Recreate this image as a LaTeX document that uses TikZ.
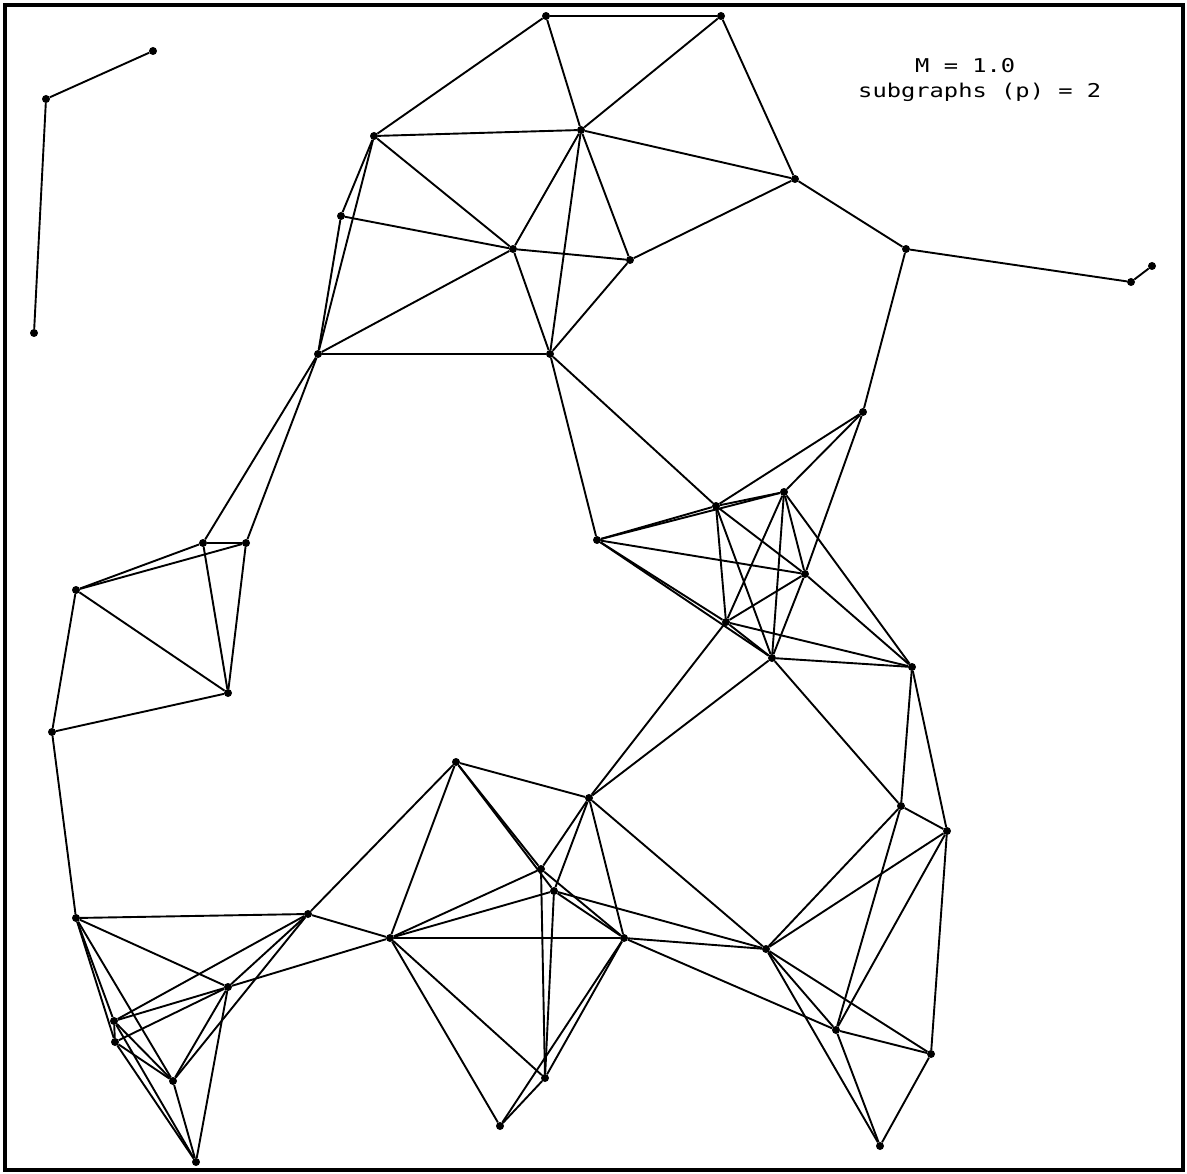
\documentclass[tikz,border=0pt]{standalone}
\usepackage{fontspec}
\usepackage{graphicx}
\newfontfamily\plotfont{DejaVu Sans Mono}
\begin{document}
\begin{tikzpicture}[x=1pt,y=-1pt,
  dot/.style={circle, fill=black, inner sep=0pt, minimum size=8pt},
  edge/.style={line width=1.9pt, black},
  lbl/.style={anchor=base west, inner sep=0pt, font=\plotfont\fontsize{19}{22}\selectfont}]
\useasboundingbox (0,0) rectangle (1187,1174);
\draw[line width=3.5pt] (5,5) rectangle (1183,1170);
% small component
\node[dot] (a1) at (153,51) {};
\node[dot] (a2) at (46,99) {};
\node[dot] (a3) at (34,333) {};
% main component
\node[dot] (n1) at (546,16) {};
\node[dot] (n2) at (721,16) {};
\node[dot] (n3) at (374,136) {};
\node[dot] (n4) at (581,130) {};
\node[dot] (n5) at (795,179) {};
\node[dot] (n6) at (341,216) {};
\node[dot] (n7) at (513,249) {};
\node[dot] (n8) at (630,260) {};
\node[dot] (n9) at (906,249) {};
\node[dot] (n10) at (1131,282) {};
\node[dot] (n11) at (1152,266) {};
\node[dot] (n12) at (318,354) {};
\node[dot] (n13) at (550,354) {};
\node[dot] (n14) at (863,412) {};
\node[dot] (n15) at (716,506) {};
\node[dot] (n16) at (784,492) {};
\node[dot] (n17) at (597,540) {};
\node[dot] (n18) at (805,574) {};
\node[dot] (n19) at (726,622) {};
\node[dot] (n20) at (772,658) {};
\node[dot] (n21) at (912,667) {};
\node[dot] (n22) at (203,543) {};
\node[dot] (n23) at (246,543) {};
\node[dot] (n24) at (76,590) {};
\node[dot] (n25) at (228,693) {};
\node[dot] (n26) at (52,732) {};
\node[dot] (n27) at (456,762) {};
\node[dot] (n28) at (589,798) {};
\node[dot] (n29) at (901,806) {};
\node[dot] (n30) at (947,831) {};
\node[dot] (n31) at (541,869) {};
\node[dot] (n32) at (554,891) {};
\node[dot] (n33) at (76,918) {};
\node[dot] (n34) at (308,914) {};
\node[dot] (n35) at (390,938) {};
\node[dot] (n36) at (624,938) {};
\node[dot] (n37) at (766,949) {};
\node[dot] (n38) at (228,987) {};
\node[dot] (n39) at (114,1021) {};
\node[dot] (n40) at (115,1042) {};
\node[dot] (n41) at (173,1081) {};
\node[dot] (n42) at (545,1078) {};
\node[dot] (n43) at (836,1030) {};
\node[dot] (n44) at (931,1054) {};
\node[dot] (n45) at (500,1126) {};
\node[dot] (n46) at (880,1146) {};
\node[dot] (n47) at (196,1162) {};
% label
\node[lbl] (t1) at (915,73) {\scalebox{1.25}[1]{M = 1.0}};
\node[lbl] (t2) at (858,98) {\scalebox{1.25}[1]{subgraphs (p) = 2}};
% edges
\foreach \a/\b in {a1/a2,a2/a3,
 n1/n2,n1/n3,n1/n4,n2/n4,n2/n5,
 n3/n4,n3/n6,n3/n7,n3/n12,
 n4/n5,n4/n7,n4/n8,n4/n13,
 n5/n8,n5/n9,
 n6/n7,n6/n12,
 n7/n8,n7/n12,n7/n13,
 n8/n13,
 n9/n10,n10/n11,n9/n14,
 n12/n13,n12/n22,n12/n23,
 n13/n15,n13/n17,
 n14/n15,n14/n16,n14/n18,
 n15/n16,n15/n17,n15/n18,n15/n19,n15/n20,
 n16/n17,n16/n18,n16/n19,n16/n20,n16/n21,
 n17/n18,n17/n19,n17/n20,
 n18/n19,n18/n20,n18/n21,
 n19/n20,n19/n21,n19/n28,
 n20/n21,n20/n28,n20/n29,
 n21/n29,n21/n30,
 n22/n23,n22/n24,n22/n25,n23/n24,n23/n25,n24/n25,n24/n26,n25/n26,n26/n33,
 n27/n28,n27/n31,n27/n32,n27/n34,n27/n35,
 n28/n31,n28/n32,n28/n36,n28/n37,
 n29/n30,n29/n37,n29/n43,
 n30/n37,n30/n43,n30/n44,
 n31/n35,n31/n36,n31/n42,
 n32/n35,n32/n36,n32/n37,n32/n42,
 n33/n34,n33/n38,n33/n39,n33/n40,n33/n41,
 n34/n35,n34/n38,n34/n39,n34/n41,
 n35/n36,n35/n38,n35/n42,n35/n45,
 n36/n37,n36/n42,n36/n43,n36/n45,
 n37/n43,n37/n44,n37/n46,
 n38/n39,n38/n40,n38/n41,n38/n47,
 n39/n40,n39/n41,n39/n47,
 n40/n41,n40/n47,
 n41/n47,
 n42/n45,
 n43/n44,n43/n46,n44/n46}
 \draw[edge] (\a) -- (\b);
\end{tikzpicture}
\end{document}
